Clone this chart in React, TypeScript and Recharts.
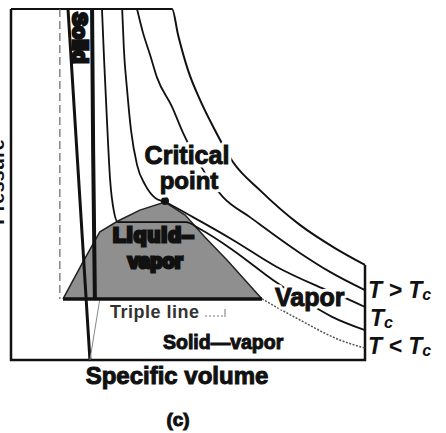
import { ComposedChart, Line, Area, XAxis, YAxis, ReferenceDot } from "recharts";

// specific volume (v) and pressure (P), both on a 0..100 scale
const frameV = [0, 0, 100, 100];
const frameP = [100, 0, 0, 27.1];

const outerV = [0, 45.5, 47.2, 50.0, 53.4, 57.6, 62.7, 70.3, 81.6, 91.5, 100];
const outerP = [100, 100, 92.6, 82.6, 74.1, 65.5, 56.4, 48.4, 38.5, 31.9, 27.1];

const superV = [35.6, 37.3, 39.3, 41.2, 45.5, 48.6, 53.4, 59.9, 67.5, 81.6, 90.1, 100];
const superP = [100, 93.2, 86.9, 80.6, 72.1, 64.7, 55.6, 46.4, 40.7, 30.5, 25.1, 19.9];

const critV = [31.4, 31.9, 32.8, 33.9, 35.6, 37.9, 40.7, 43.5, 51.4, 62.7, 75.1, 86.4, 94.4, 100];
const critP = [100, 88.3, 76.9, 65.5, 55.6, 49.9, 46.2, 45.0, 40.7, 34.2, 26.5, 21.1, 17.7, 15.1];

const subV = [25.7, 26.3, 27.1, 28.0, 29.1, 30.2, 49.4, 53.4, 62.7, 74.0, 81.6, 90.7, 100];
const subP = [100, 85.5, 68.4, 51.3, 42.2, 39.3, 39.3, 37.3, 31.3, 22.8, 17.7, 12.3, 8.5];

const solidVapV = [70.9, 81.6, 92.9, 100];
const solidVapP = [17.4, 11.4, 5.7, 3.4];

const solidEdgeV = [16.1, 22.3];
const solidEdgeP = [100, 0];

const liquidEdgeV = [22.9, 23.2, 23.7];
const liquidEdgeP = [100, 59.8, 17.4];

const lowerV = [25.1, 22.3];
const lowerP = [17.4, 0];

const dashV = [13.8, 13.8];
const dashP = [100, 17.4];

const tripleV = [14.7, 70.9];
const tripleP = [17.4, 17.4];

const domeV = [14.7, 20.3, 25.1, 30.2, 36.4, 43.5, 49.2, 54.8, 61.0, 70.9];
const domeP = [17.4, 27.9, 36.5, 39.6, 42.7, 45.0, 41.3, 35.0, 28.5, 17.4];

const zip = (vs: number[], ps: number[]) => vs.map((v, i) => ({ v, p: ps[i] }));

const font = "'Liberation Sans', Arial, sans-serif";

export default function App() {
  const ink = "#111";
  return (
    <div style={{ position: "absolute", left: 0, top: 0, width: 446, height: 433, background: "#fff" }}>
      <ComposedChart width={446} height={433} margin={{ top: 9, right: 81, bottom: 73, left: 11 }}>
        <XAxis type="number" dataKey="v" domain={[0, 100]} hide />
        <YAxis type="number" domain={[0, 100]} hide />
        <Area data={zip(domeV, domeP)} dataKey="p" type="linear" baseValue={17.4}
          fill="#8f8f8f" fillOpacity={1} stroke="#222" strokeWidth={1.5} isAnimationActive={false} />
        <Line data={zip(frameV, frameP)} dataKey="p" type="linear" stroke={ink} strokeWidth={2.5} dot={false} isAnimationActive={false} />
        <Line data={zip(outerV, outerP)} dataKey="p" type="monotone" stroke={ink} strokeWidth={2} dot={false} isAnimationActive={false} />
        <Line data={zip(superV, superP)} dataKey="p" type="monotone" stroke={ink} strokeWidth={1.8} dot={false} isAnimationActive={false} />
        <Line data={zip(critV, critP)} dataKey="p" type="monotone" stroke={ink} strokeWidth={1.8} dot={false} isAnimationActive={false} />
        <Line data={zip(subV, subP)} dataKey="p" type="monotone" stroke={ink} strokeWidth={1.8} dot={false} isAnimationActive={false} />
        <Line data={zip(solidVapV, solidVapP)} dataKey="p" type="monotone" stroke="#555" strokeWidth={1.5} strokeDasharray="2 1.5" dot={false} isAnimationActive={false} />
        <Line data={zip(solidEdgeV, solidEdgeP)} dataKey="p" type="linear" stroke={ink} strokeWidth={3} dot={false} isAnimationActive={false} />
        <Line data={zip(liquidEdgeV, liquidEdgeP)} dataKey="p" type="linear" stroke={ink} strokeWidth={4} dot={false} isAnimationActive={false} />
        <Line data={zip(lowerV, lowerP)} dataKey="p" type="linear" stroke="#888" strokeWidth={1} dot={false} isAnimationActive={false} />
        <Line data={zip(dashV, dashP)} dataKey="p" type="linear" stroke="#666" strokeWidth={1.2} strokeDasharray="8 4" dot={false} isAnimationActive={false} />
        <Line data={zip(tripleV, tripleP)} dataKey="p" type="linear" stroke={ink} strokeWidth={3.5} dot={false} isAnimationActive={false} />
        <ReferenceDot x={43.5} y={45.3} r={4} fill={ink} stroke="none" />
      </ComposedChart>
      <svg width={446} height={433} style={{ position: "absolute", left: 0, top: 0 }} fontFamily={font} fontWeight="bold">
        {/* white halos so the labels break the isotherms */}
        <g fill="#fff" stroke="#fff" strokeWidth={7} strokeLinejoin="round">
          <text x={187} y={164} fontSize={25} textAnchor="middle">Critical</text>
          <text x={189} y={189} fontSize={24} textAnchor="middle">point</text>
          <text x={275} y={306} fontSize={25}>Vapor</text>
        </g>
        <g fill={ink} stroke={ink} strokeWidth={1}>
          <text x={187} y={164} fontSize={25} textAnchor="middle">Critical</text>
          <text x={189} y={189} fontSize={24} textAnchor="middle">point</text>
          <text x={275} y={306} fontSize={25}>Vapor</text>
          <text x={177} y={384} fontSize={24} textAnchor="middle">Specific volume</text>
          <text x={178} y={426} fontSize={19} textAnchor="middle">(c)</text>
          <text x={163} y={349} fontSize={19.5}>Solid—vapor</text>
        </g>
        <text x={110} y={318} fontSize={18} fill="#333" letterSpacing={0.5}>Triple line</text>
        <line x1={205} y1={316} x2={225} y2={316} stroke="#777" strokeWidth={1} strokeDasharray="2 2" />
        <line x1={225} y1={309} x2={225} y2={317} stroke="#777" strokeWidth={1} />
        {/* blacked-out region labels of the scan */}
        <g fill={ink} stroke={ink} strokeWidth={3}>
          <text x={80} y={38} fontSize={21} textAnchor="middle" dominantBaseline="central" transform="rotate(90 80 38)">Solid</text>
          <text x={113} y={242} fontSize={21} letterSpacing={1}>Liquid–</text>
          <text x={128} y={268} fontSize={20}>vapor</text>
        </g>
        {/* axis title, mostly cut off at the left edge in the scan */}
        <text x={4} y={182} fontSize={20} fill={ink} textAnchor="middle" transform="rotate(-90 4 182)">Pressure</text>
        <g fill={ink} fontStyle="italic" fontSize={23}>
          <text x={368} y={298}>T &gt; T<tspan fontSize={16} dy={2}>c</tspan></text>
          <text x={370} y={326}>T<tspan fontSize={16} dy={2}>c</tspan></text>
          <text x={368} y={354}>T &lt; T<tspan fontSize={16} dy={2}>c</tspan></text>
        </g>
      </svg>
    </div>
  );
}
